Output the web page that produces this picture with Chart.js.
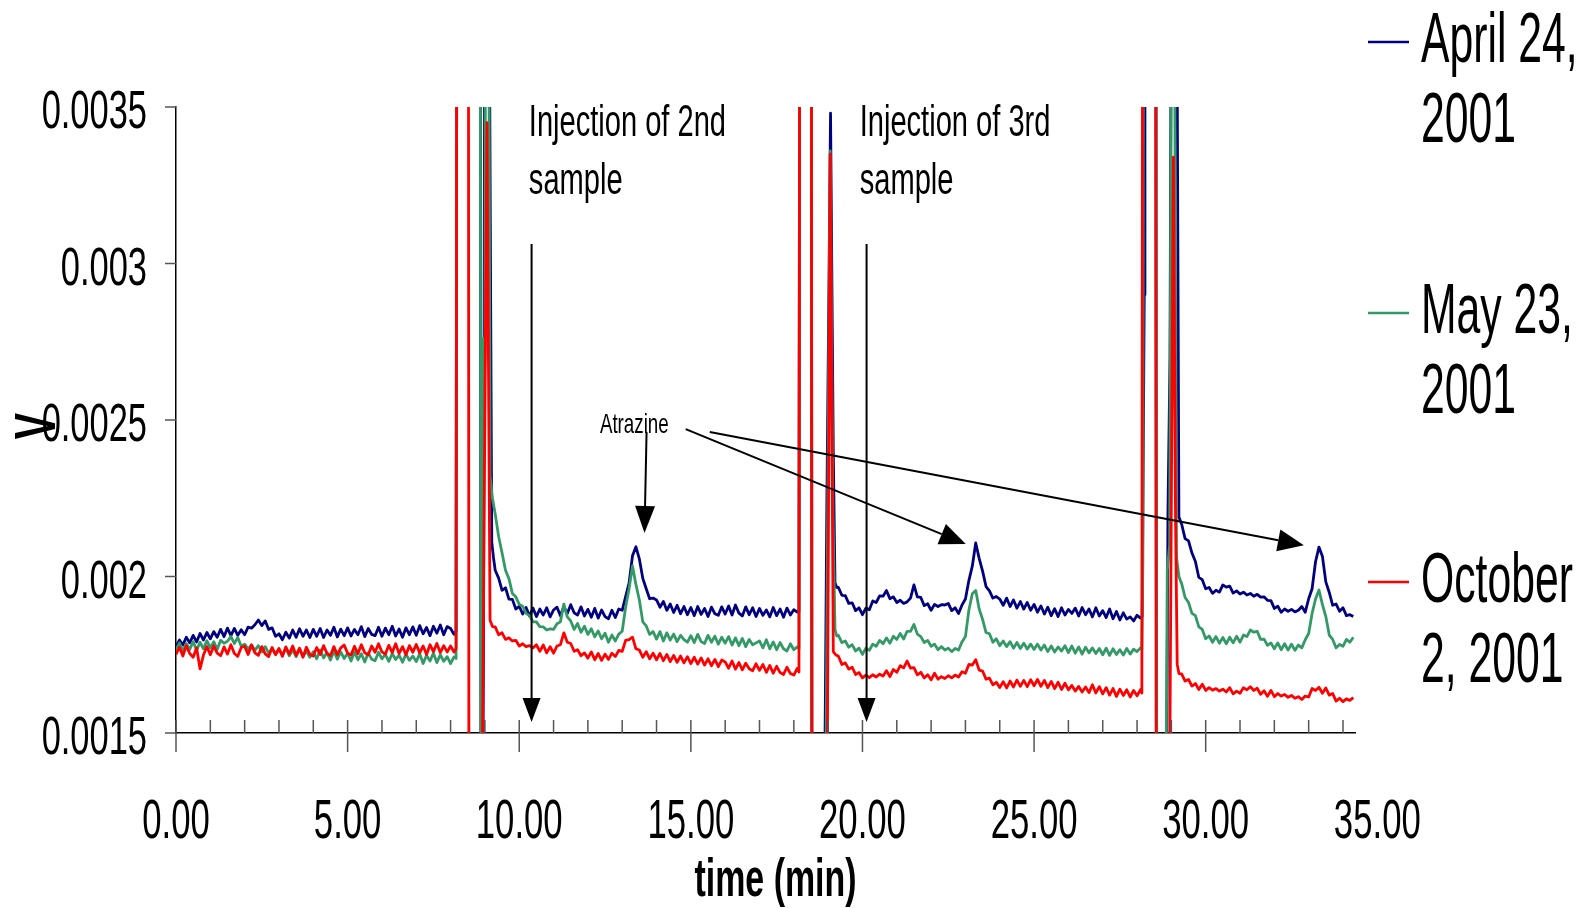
<!DOCTYPE html>
<html>
<head>
<meta charset="utf-8">
<title>Atrazine chromatograms</title>
<script src="https://cdn.jsdelivr.net/npm/chart.js@4.4.1/dist/chart.umd.min.js"></script>
<style>
  html, body { margin: 0; padding: 0; background: #fff; }
  canvas { display: block; }
</style>
</head>
<body>
<canvas id="chrom" width="1585" height="908"></canvas>
<script>
// detector signal in mV, one reading every 0.1 min from 0 min;
// null where the injection spikes take over (listed separately below)
const STEP = 0.1;

const april = [
  1.776, 1.797, 1.781, 1.806, 1.788, 1.812, 1.791, 1.818, 1.797, 1.821,
  1.801, 1.824, 1.806, 1.831, 1.808, 1.835, 1.811, 1.834, 1.812, 1.830,
  1.814, 1.838, 1.835, 1.846, 1.861, 1.843, 1.858, 1.831, 1.836, 1.809,
  1.817, 1.798, 1.822, 1.803, 1.829, 1.806, 1.833, 1.809, 1.829, 1.805,
  1.831, 1.809, 1.834, 1.805, 1.829, 1.812, 1.838, 1.807, 1.832, 1.811,
  1.836, 1.810, 1.831, 1.814, 1.840, 1.808, 1.834, 1.815, 1.811, 1.838,
  1.809, 1.835, 1.814, 1.841, 1.810, 1.832, 1.806, 1.836, 1.814, 1.839,
  1.812, 1.843, 1.817, 1.837, 1.811, 1.841, 1.819, 1.845, 1.814, 1.840,
  1.834, 1.815, null, null, null, null, null, null, null, null,
  null, null, null, 2.020, 1.995, 1.956, 1.964, 1.928, 1.927, 1.896,
  1.905, 1.880, 1.901, 1.874, 1.899, 1.872, 1.896, 1.877, 1.900, 1.871,
  1.893, 1.902, 1.875, 1.904, 1.882, 1.910, 1.884, 1.877, 1.903, 1.874,
  1.895, 1.870, 1.898, 1.867, 1.893, 1.872, 1.865, 1.892, 1.869, 1.896,
  1.892, 1.936, 1.979, 2.066, 2.095, 2.056, 1.994, 1.961, 1.929, 1.931,
  1.925, 1.902, 1.920, 1.892, 1.912, 1.885, 1.908, 1.881, 1.904, 1.878,
  1.901, 1.875, 1.904, 1.879, 1.898, 1.872, 1.902, 1.881, 1.876, 1.903,
  1.880, 1.906, 1.877, 1.909, 1.883, 1.874, 1.903, 1.878, 1.900, 1.872,
  1.898, 1.876, 1.893, 1.871, 1.901, 1.875, 1.896, 1.870, 1.899, 1.877,
  1.894, 1.886, null, null, null, null, null, null, null, null,
  null, null, null, 1.965, 1.940, 1.939, 1.914, 1.916, 1.891, 1.900,
  1.878, 1.899, 1.894, 1.922, 1.917, 1.938, 1.937, 1.955, 1.929, 1.935,
  1.917, 1.924, 1.914, 1.919, 1.931, 1.973, 1.935, 1.933, 1.907, 1.913,
  1.892, 1.911, 1.904, 1.910, 1.909, 1.914, 1.891, 1.900, 1.882, 1.909,
  1.928, 1.987, 2.033, 2.107, 2.058, 2.017, 1.968, 1.954, 1.931, 1.936,
  1.928, 1.908, 1.931, 1.904, 1.925, 1.899, 1.920, 1.896, 1.917, 1.892,
  1.911, 1.886, 1.906, 1.880, 1.902, 1.875, 1.897, 1.872, 1.900, 1.877,
  1.895, 1.882, 1.899, 1.874, 1.901, 1.878, 1.896, 1.871, 1.900, 1.874,
  1.891, 1.869, 1.896, 1.865, 1.888, 1.861, 1.884, 1.864, 1.871, 1.858,
  1.876, 1.867, null, null, null, null, null, null, null, null,
  null, null, null, 2.167, 2.121, 2.114, 2.075, 2.048, 1.997, 1.990,
  1.961, 1.965, 1.946, 1.956, 1.950, 1.973, 1.966, 1.969, 1.947, 1.954,
  1.944, 1.950, 1.941, 1.946, 1.937, 1.943, 1.934, 1.935, 1.924, 1.923,
  1.898, 1.905, 1.886, 1.896, 1.889, 1.895, 1.887, 1.892, 1.904, 1.886,
  1.929, 1.961, 2.047, 2.094, 2.065, 1.983, 1.949, 1.908, 1.912, 1.889,
  1.900, 1.875, 1.878, 1.872
];

const may = [
  1.765, 1.788, 1.761, 1.786, 1.767, 1.792, 1.764, 1.790, 1.769, 1.795,
  1.772, 1.792, 1.767, 1.796, 1.787, 1.793, 1.808, 1.786, 1.805, 1.777,
  1.784, 1.768, 1.782, 1.764, 1.779, 1.759, 1.776, 1.755, 1.771, 1.752,
  1.768, 1.749, 1.771, 1.747, 1.766, 1.744, 1.768, 1.745, 1.761, 1.742,
  1.760, 1.737, 1.765, 1.740, 1.757, 1.733, 1.762, 1.736, 1.759, 1.738,
  1.755, 1.730, 1.759, 1.734, 1.753, 1.727, 1.756, 1.736, 1.731, 1.758,
  1.737, 1.751, 1.729, 1.754, 1.735, 1.749, 1.726, 1.752, 1.732, 1.746,
  1.728, 1.753, 1.722, 1.748, 1.730, 1.755, 1.725, 1.750, 1.729, 1.744,
  1.722, 1.743, null, null, null, null, null, null, null, null,
  null, null, null, 2.200, 2.128, 2.075, 2.020, 1.993, 1.946, 1.935,
  1.911, 1.905, 1.882, 1.875, 1.855, 1.855, 1.840, 1.839, 1.829, 1.833,
  1.831, 1.849, 1.855, 1.912, 1.871, 1.858, 1.831, 1.850, 1.822, 1.841,
  1.815, 1.833, 1.807, 1.826, 1.801, 1.819, 1.790, 1.813, 1.794, 1.816,
  1.825, 1.902, 1.961, 2.034, 1.974, 1.925, 1.855, 1.842, 1.815, 1.824,
  1.800, 1.824, 1.794, 1.820, 1.797, 1.816, 1.792, 1.812, 1.798, 1.790,
  1.811, 1.789, 1.815, 1.792, 1.786, 1.812, 1.790, 1.809, 1.784, 1.806,
  1.787, 1.808, 1.781, 1.804, 1.779, 1.802, 1.776, 1.799, 1.782, 1.788,
  1.794, 1.772, 1.798, 1.769, 1.791, 1.766, 1.789, 1.769, 1.762, 1.785,
  1.766, 1.775, null, null, null, null, null, null, null, null,
  null, null, null, 1.812, 1.789, 1.794, 1.774, 1.782, 1.762, 1.771,
  1.751, 1.771, 1.764, 1.784, 1.777, 1.796, 1.785, 1.804, 1.787, 1.809,
  1.799, 1.818, 1.800, 1.825, 1.825, 1.847, 1.816, 1.808, 1.789, 1.796,
  1.777, 1.784, 1.766, 1.776, 1.765, 1.771, 1.760, 1.770, 1.765, 1.791,
  1.808, 1.892, 1.945, 1.955, 1.896, 1.863, 1.821, 1.817, 1.790, 1.801,
  1.779, 1.794, 1.776, 1.792, 1.771, 1.789, 1.770, 1.787, 1.768, 1.784,
  1.767, 1.784, 1.765, 1.781, 1.760, 1.778, 1.759, 1.775, 1.762, 1.779,
  1.757, 1.778, 1.755, 1.775, 1.752, 1.774, 1.756, 1.772, 1.754, 1.770,
  1.750, 1.771, 1.748, 1.769, 1.751, 1.766, 1.749, 1.770, 1.752, 1.768,
  1.760, 1.772, null, null, null, null, null, null, null, null,
  null, null, null, 1.977, 1.933, 1.917, 1.882, 1.875, 1.839, 1.831,
  1.801, 1.810, 1.790, 1.808, 1.787, 1.805, 1.785, 1.806, 1.788, 1.809,
  1.790, 1.813, 1.808, 1.829, 1.822, 1.825, 1.799, 1.800, 1.780, 1.788,
  1.769, 1.788, 1.766, 1.785, 1.765, 1.784, 1.764, 1.781, 1.772, 1.798,
  1.818, 1.882, 1.928, 1.957, 1.911, 1.872, 1.813, 1.799, 1.772, 1.783,
  1.777, 1.799, 1.790, 1.806
];

const october = [
  1.751, 1.774, 1.746, 1.779, 1.754, 1.742, 1.772, 1.705, 1.749, 1.776,
  1.750, 1.778, 1.755, 1.747, 1.775, 1.752, 1.782, 1.754, 1.745, 1.773,
  1.777, 1.751, 1.781, 1.756, 1.748, 1.776, 1.753, 1.744, 1.773, 1.750,
  1.770, 1.745, 1.775, 1.752, 1.778, 1.748, 1.771, 1.742, 1.774, 1.751,
  1.746, 1.773, 1.751, 1.779, 1.754, 1.747, 1.776, 1.750, 1.772, 1.781,
  1.755, 1.749, 1.777, 1.753, 1.782, 1.756, 1.750, 1.778, 1.758, 1.785,
  1.759, 1.752, 1.780, 1.757, 1.785, 1.754, 1.776, 1.750, 1.779, 1.758,
  1.783, 1.756, 1.778, 1.751, 1.782, 1.760, 1.786, 1.757, 1.779, 1.759,
  1.778, 1.759, null, null, null, null, null, null, null, null,
  null, null, null, 1.839, 1.814, 1.820, 1.799, 1.804, 1.794, 1.796,
  1.778, 1.785, 1.776, 1.779, 1.772, 1.782, 1.761, 1.781, 1.756, 1.776,
  1.755, 1.778, 1.782, 1.820, 1.790, 1.786, 1.761, 1.766, 1.747, 1.756,
  1.739, 1.759, 1.734, 1.754, 1.732, 1.752, 1.735, 1.755, 1.744, 1.764,
  1.761, 1.796, 1.798, 1.806, 1.769, 1.765, 1.742, 1.760, 1.737, 1.755,
  1.734, 1.754, 1.731, 1.751, 1.728, 1.748, 1.726, 1.746, 1.724, 1.744,
  1.722, 1.742, 1.720, 1.740, 1.717, 1.737, 1.715, 1.735, 1.712, 1.733,
  1.727, 1.707, 1.730, 1.704, 1.725, 1.702, 1.723, 1.705, 1.699, 1.721,
  1.700, 1.719, 1.694, 1.716, 1.691, 1.713, 1.693, 1.687, 1.710, 1.690,
  1.685, 1.706, null, null, null, null, null, null, null, null,
  null, null, null, 1.745, 1.719, 1.724, 1.704, 1.710, 1.687, 1.693,
  1.676, 1.685, 1.677, 1.686, 1.679, 1.688, 1.682, 1.699, 1.680, 1.703,
  1.694, 1.715, 1.708, 1.730, 1.707, 1.709, 1.686, 1.694, 1.676, 1.686,
  1.670, 1.691, 1.672, 1.680, 1.674, 1.683, 1.676, 1.685, 1.679, 1.696,
  1.691, 1.719, 1.717, 1.734, 1.701, 1.698, 1.672, 1.675, 1.654, 1.662,
  1.645, 1.664, 1.644, 1.666, 1.647, 1.669, 1.649, 1.668, 1.648, 1.670,
  1.651, 1.671, 1.649, 1.668, 1.645, 1.665, 1.642, 1.662, 1.639, 1.659,
  1.638, 1.652, 1.634, 1.649, 1.631, 1.647, 1.629, 1.654, 1.628, 1.648,
  1.625, 1.645, 1.621, 1.642, 1.617, 1.640, 1.620, 1.638, 1.615, 1.636,
  1.619, 1.638, null, null, null, null, null, null, null, null,
  null, null, null, 1.689, 1.666, 1.671, 1.650, 1.658, 1.639, 1.656,
  1.636, 1.645, 1.637, 1.642, 1.634, 1.640, 1.631, 1.645, 1.625, 1.634,
  1.627, 1.645, 1.638, 1.648, 1.636, 1.643, 1.624, 1.635, 1.617, 1.636,
  1.616, 1.626, 1.618, 1.623, 1.614, 1.620, 1.611, 1.616, 1.607, 1.618,
  1.615, 1.642, 1.636, 1.646, 1.627, 1.644, 1.621, 1.626, 1.602, 1.611,
  1.600, 1.609, 1.604, 1.613
];

// injection spikes as [time (min), signal (mV)]; values past the axis range run off the plot
const aprilSpikes = [
  [8.16, 1.825], [8.20, 6.0], [8.85, 6.0], [8.89, 0.5], [8.93, 1.0], [8.96, 1.84],
  [9.03, 6.0], [9.08, 5.0], [9.20, 2.11], [9.25, 2.06],
  [18.15, 1.89], [18.19, 6.0], [18.50, 6.0], [18.54, -1.0], [18.86, 0.8], [18.92, 1.62],
  [18.96, 2.2], [19.07, 3.48], [19.15, 2.4], [19.20, 1.98], [19.25, 1.965],
  [28.15, 1.872], [28.21, 2.9], [28.23, 6.0], [28.54, 6.0], [28.58, -1.0], [28.84, 0.8],
  [28.90, 2.2], [28.96, 2.7], [29.03, 5.0], [29.12, 5.0], [29.22, 2.19]
];
const maySpikes = [
  [8.16, 1.738], [8.20, 6.0], [8.85, 6.0], [8.89, 0.5], [8.92, 0.9], [8.95, 2.76],
  [8.97, 2.5], [9.00, 2.72], [9.05, 6.0], [9.09, 5.0], [9.15, 2.32], [9.22, 2.25],
  [18.15, 1.77], [18.19, 6.0], [18.50, 6.0], [18.54, -1.0], [18.90, 0.8], [19.06, 3.36],
  [19.14, 2.2], [19.20, 1.83], [19.25, 1.81],
  [28.14, 1.768], [28.17, 2.05], [28.20, 6.0], [28.54, 6.0], [28.58, -1.0], [28.82, 0.8],
  [28.88, 2.02], [28.95, 2.1], [29.02, 4.5], [29.07, 4.5], [29.15, 2.06], [29.22, 2.0]
];
const octoberSpikes = [
  [8.16, 1.77], [8.20, 6.0], [8.51, 6.0], [8.55, -2.0], [8.90, 1.0], [9.06, 3.45],
  [9.15, 1.86], [9.22, 1.84],
  [18.15, 1.695], [18.19, 6.0], [18.50, 6.0], [18.54, -1.0], [18.95, 0.8], [19.06, 3.35],
  [19.15, 1.76], [19.22, 1.75],
  [28.14, 1.628], [28.18, 6.0], [28.53, 6.0], [28.57, -1.0], [28.92, 0.8], [29.06, 3.34],
  [29.12, 2.2], [29.17, 1.72], [29.22, 1.69]
];

const seriesLabels = [['April 24,', '2001'], ['May 23,', '2001'], ['October', '2, 2001']];
const seriesColors = ['#000080', '#339966', '#ff0000'];

const xTicks = [0, 5, 10, 15, 20, 25, 30, 35];
const yTicks = [0.0015, 0.002, 0.0025, 0.003, 0.0035];
const yTickLabels = ['0.0015', '0.002', '0.0025', '0.003', '0.0035'];

// annotation anchors in data units (min, V)
const notes = [
  { lines: ['Injection of 2nd', 'sample'], x: 10.28, y: 0.003407, size: 45, gap: 58 },
  { lines: ['Injection of 3rd', 'sample'], x: 19.92, y: 0.003407, size: 45, gap: 58 },
  { lines: ['Atrazine'], x: 12.35, y: 0.002458, size: 28, gap: 0 }
];
const arrows = [
  { from: [10.36, 0.003062], to: [10.36, 0.001535], head: 24, half: 9 },
  { from: [20.12, 0.003062], to: [20.12, 0.001535], head: 24, half: 9 },
  { from: [13.71, 0.002462], to: [13.65, 0.002139], head: 27, half: 10 },
  { from: [14.85, 0.002471], to: [23.01, 0.002104], head: 26, half: 11 },
  { from: [15.55, 0.002462], to: [32.86, 0.002100], head: 26, half: 11 }
];

function toPoints(readings, spikes) {
  const pts = [];
  readings.forEach((mv, i) => {
    if (mv !== null) pts.push({ x: Math.round(i * STEP * 10) / 10, y: mv / 1000 });
  });
  spikes.forEach(([t, mv]) => pts.push({ x: t, y: mv / 1000 }));
  return pts.sort((a, b) => a.x - b.x);
}

const FONT = '"Liberation Sans", Arial, sans-serif';

// the labels use a condensed face, so squeeze the glyphs horizontally
function narrowText(ctx, text, x, y, o) {
  ctx.save();
  ctx.translate(x, y);
  if (o.angle) ctx.rotate(o.angle);
  ctx.scale(o.squeeze || 0.63, 1);
  ctx.font = (o.bold ? 'bold ' : '') + o.size + 'px ' + FONT;
  ctx.textAlign = o.align || 'left';
  ctx.textBaseline = 'alphabetic';
  ctx.fillStyle = '#000';
  ctx.fillText(text, 0, 0);
  ctx.restore();
}

function segment(ctx, x1, y1, x2, y2) {
  ctx.beginPath();
  ctx.moveTo(x1, y1);
  ctx.lineTo(x2, y2);
  ctx.stroke();
}

function arrowTo(ctx, x1, y1, x2, y2, head, half) {
  const a = Math.atan2(y2 - y1, x2 - x1);
  const bx = x2 - head * Math.cos(a);
  const by = y2 - head * Math.sin(a);
  segment(ctx, x1, y1, bx, by);
  ctx.beginPath();
  ctx.moveTo(x2, y2);
  ctx.lineTo(bx + half * Math.sin(a), by - half * Math.cos(a));
  ctx.lineTo(bx - half * Math.sin(a), by + half * Math.cos(a));
  ctx.closePath();
  ctx.fill();
}

const decorations = {
  id: 'decorations',
  afterDraw(chart) {
    const { ctx, chartArea: area, scales: { x, y } } = chart;
    ctx.save();

    // tick marks: y majors outside, x minors inside, x majors across the axis
    ctx.strokeStyle = '#555';
    ctx.lineWidth = 1.5;
    yTicks.forEach(v => {
      const py = y.getPixelForValue(v);
      segment(ctx, area.left - 11, py, area.left, py);
    });
    for (let m = 0; m <= x.max; m++) {
      const px = x.getPixelForValue(m);
      segment(ctx, px, area.bottom - 13, px, area.bottom + (m % 5 === 0 ? 19 : 0));
    }

    // tick labels
    yTicks.forEach((v, i) => {
      narrowText(ctx, yTickLabels[i], area.left - 29, y.getPixelForValue(v) + 21,
        { size: 53, align: 'right', squeeze: 0.65 });
    });
    xTicks.forEach(v => {
      narrowText(ctx, v.toFixed(2), x.getPixelForValue(v), area.bottom + 105,
        { size: 56, align: 'center', squeeze: 0.62 });
    });

    // axis titles
    narrowText(ctx, 'time (min)', (area.left + area.right) / 2 + 10, 896,
      { size: 53, bold: true, align: 'center', squeeze: 0.64 });
    narrowText(ctx, 'V', 55, 426,
      { size: 58, bold: true, align: 'center', squeeze: 0.68, angle: -Math.PI / 2 });

    // legend
    const rows = [62, 333, 602];
    seriesLabels.forEach((lines, i) => {
      ctx.strokeStyle = seriesColors[i];
      ctx.lineWidth = 2.5;
      segment(ctx, 1368, rows[i] - 20, 1409, rows[i] - 20);
      lines.forEach((s, k) => {
        narrowText(ctx, s, 1421, rows[i] + k * 80, { size: 70, squeeze: 0.61 });
      });
    });

    // annotations
    notes.forEach(n => {
      const px = x.getPixelForValue(n.x);
      const py = y.getPixelForValue(n.y);
      n.lines.forEach((s, k) => {
        narrowText(ctx, s, px, py + k * n.gap, { size: n.size, squeeze: n.size > 30 ? 0.646 : 0.67 });
      });
    });
    ctx.strokeStyle = '#000';
    ctx.fillStyle = '#000';
    ctx.lineWidth = 2;
    arrows.forEach(a => {
      arrowTo(ctx,
        x.getPixelForValue(a.from[0]), y.getPixelForValue(a.from[1]),
        x.getPixelForValue(a.to[0]), y.getPixelForValue(a.to[1]),
        a.head, a.half);
    });

    ctx.restore();
  }
};

const readings = [april, may, october];
const spikes = [aprilSpikes, maySpikes, octoberSpikes];

new Chart(document.getElementById('chrom'), {
  type: 'line',
  data: {
    datasets: readings.map((r, i) => ({
      label: seriesLabels[i].join(' '),
      data: toPoints(r, spikes[i]),
      borderColor: seriesColors[i],
      borderWidth: 2.8,
      borderJoinStyle: 'round',
      pointRadius: 0,
      tension: 0,
      clip: 0,
      order: 3 - i
    }))
  },
  options: {
    responsive: false,
    animation: false,
    devicePixelRatio: 1,
    events: [],
    layout: { padding: { left: 176, top: 107, right: 230, bottom: 175 } },
    plugins: { legend: { display: false }, tooltip: { enabled: false } },
    scales: {
      x: {
        type: 'linear', min: 0, max: 34.35,
        grid: { display: false, drawTicks: false },
        ticks: { display: false },
        border: { color: '#000', width: 1.5 }
      },
      y: {
        min: 0.0015, max: 0.0035,
        grid: { display: false, drawTicks: false },
        ticks: { display: false },
        border: { color: '#000', width: 1.5 }
      }
    }
  },
  plugins: [decorations]
});
</script>
</body>
</html>
